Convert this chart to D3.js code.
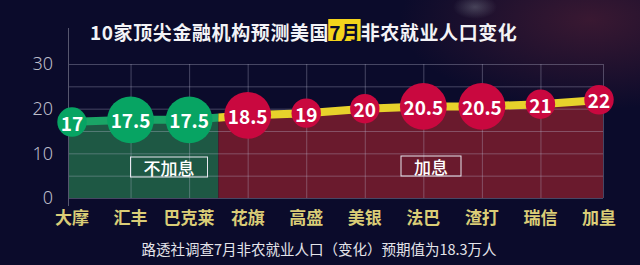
<!DOCTYPE html>
<html>
<head>
<meta charset="utf-8">
<script src="https://cdn.jsdelivr.net/npm/d3@7"></script>
<style>
  html, body { margin: 0; padding: 0; background: #0b0b2b; }
  svg { display: block; }
</style>
</head>
<body>
<svg id="chart" width="640" height="265"></svg>
<script>
// ---- data ----
const institutions = ['大摩', '汇丰', '巴克莱', '花旗', '高盛', '美银', '法巴', '渣打', '瑞信', '加皇'];
const forecasts = [17, 17.5, 17.5, 18.5, 19, 20, 20.5, 20.5, 21, 22];
const rateView = ['不加息', '不加息', '不加息', '加息', '加息', '加息', '加息', '加息', '加息', '加息'];
const gridTicks = [0, 5, 10, 15, 20, 25, 30];
const yTickLabels = [0, 10, 20, 30];
const titleParts = ['10家顶尖金融机构预测美国', '7月', '非农就业人口变化'];
const footnote = '路透社调查7月非农就业人口（变化）预期值为18.3万人';

// ---- layout ----
const W = 640, H = 265;
const plot = { left: 68, right: 603, top: 64, bottom: 198 };
const CJK = "'Noto Sans CJK SC', 'Noto Sans', sans-serif";
const colors = {
  bg: '#0b0b2b',
  grid: 'rgba(190,190,215,0.33)',
  axis: '#56566e',
  holdArea: '#1e5844',
  hikeArea: '#6a1a2d',
  holdLine: '#1aa566',
  hikeLine: '#e7d22b',
  holdDot: '#07a463',
  hikeDot: '#c9083f',
  xLabel: '#dacd77',
  yLabel: '#bdbdca'
};
const groupStyle = {
  '不加息': { area: colors.holdArea, line: colors.holdLine, dot: colors.holdDot, box: { cx: 169, cy: 167 } },
  '加息':   { area: colors.hikeArea, line: colors.hikeLine, dot: colors.hikeDot, box: { cx: 431, cy: 166 } }
};

const rows = institutions.map((name, i) => ({ name, value: forecasts[i], view: rateView[i] }));
const n = rows.length;

const svg = d3.select('#chart');
const defs = svg.append('defs');

// background with a faint glow in the upper right
svg.append('rect').attr('width', W).attr('height', H).attr('fill', colors.bg);
const glow = defs.append('radialGradient').attr('id', 'glow')
  .attr('cx', 0.5).attr('cy', 0.5).attr('r', 0.5);
glow.append('stop').attr('offset', '0%').attr('stop-color', 'rgba(95,35,55,0.55)');
glow.append('stop').attr('offset', '100%').attr('stop-color', 'rgba(95,35,55,0)');
svg.append('ellipse').attr('cx', 590).attr('cy', 20).attr('rx', 190).attr('ry', 90).attr('fill', 'url(#glow)');
const spot = defs.append('radialGradient').attr('id', 'spot')
  .attr('cx', 0.5).attr('cy', 0.5).attr('r', 0.5);
spot.append('stop').attr('offset', '0%').attr('stop-color', 'rgba(150,160,170,0.35)');
spot.append('stop').attr('offset', '100%').attr('stop-color', 'rgba(150,160,170,0)');
svg.append('ellipse').attr('cx', 475).attr('cy', 7).attr('rx', 22).attr('ry', 12).attr('fill', 'url(#spot)');

// ---- scales ----
const x = d3.scalePoint().domain(institutions).range([72, 599]);
const y = d3.scaleLinear().domain([0, 30]).range([plot.bottom, plot.top]);

// the filled band runs from edge to edge of the plot
const xEdge = (d, i) => i === 0 ? plot.left : i === n - 1 ? plot.right : x(d.name);

// split between the two rate-view groups
const splitIdx = rows.findIndex(d => d.view !== rows[0].view);
const splitX = (x(rows[splitIdx - 1].name) + x(rows[splitIdx].name)) / 2;

defs.append('clipPath').attr('id', 'clip-hold').append('rect')
  .attr('x', 0).attr('y', 0).attr('width', splitX).attr('height', H);
defs.append('clipPath').attr('id', 'clip-hike').append('rect')
  .attr('x', splitX).attr('y', 0).attr('width', W - splitX).attr('height', H);
const clipFor = { '不加息': 'url(#clip-hold)', '加息': 'url(#clip-hike)' };

// ---- area ----
const area = d3.area().x(xEdge).y0(y(0)).y1(d => y(d.value));
Object.keys(groupStyle).forEach(g => {
  svg.append('path').datum(rows)
    .attr('d', area)
    .attr('fill', groupStyle[g].area)
    .attr('clip-path', clipFor[g]);
});

// ---- grid ----
const gGrid = svg.append('g').attr('transform', `translate(${plot.left},0)`)
  .call(d3.axisLeft(y).tickValues(gridTicks).tickSize(-(plot.right - plot.left)).tickFormat(''));
gGrid.select('.domain').remove();
gGrid.selectAll('line').attr('stroke', colors.grid).attr('stroke-width', 1);

const gVGrid = svg.append('g').attr('transform', `translate(0,${plot.bottom})`)
  .call(d3.axisBottom(x).tickValues(institutions.slice(1, -1)).tickSize(-(plot.bottom - plot.top)).tickFormat(''));
gVGrid.select('.domain').remove();
gVGrid.selectAll('line').attr('stroke', colors.grid).attr('stroke-width', 1);

// right border and left axis line
svg.append('line').attr('x1', plot.right + 0.5).attr('x2', plot.right + 0.5)
  .attr('y1', plot.top).attr('y2', plot.bottom).attr('stroke', colors.grid);
svg.append('line').attr('x1', plot.left + 0.5).attr('x2', plot.left + 0.5)
  .attr('y1', 28).attr('y2', 206).attr('stroke', colors.axis);

// y tick labels
const gY = svg.append('g').attr('transform', `translate(${plot.left},0)`)
  .call(d3.axisLeft(y).tickValues(yTickLabels).tickSize(0).tickPadding(15));
gY.select('.domain').remove();
gY.selectAll('text')
  .attr('fill', colors.yLabel)
  .style('font-family', "'Noto Sans', sans-serif")
  .style('font-size', '18px')
  .style('font-weight', 300);

// ---- line ----
const line = d3.line().x(xEdge).y(d => y(d.value));
Object.keys(groupStyle).forEach(g => {
  svg.append('path').datum(rows)
    .attr('d', line)
    .attr('fill', 'none')
    .attr('stroke', groupStyle[g].line)
    .attr('stroke-width', 8)
    .attr('clip-path', clipFor[g]);
});

// ---- group annotations ----
Object.keys(groupStyle).forEach(g => {
  const b = groupStyle[g].box;
  const ga = svg.append('g').attr('transform', `translate(${b.cx},${b.cy})`);
  const t = ga.append('text')
    .attr('text-anchor', 'middle').attr('dominant-baseline', 'central')
    .attr('fill', '#ffffff')
    .style('font-family', CJK).style('font-size', '17px').style('font-weight', 500)
    .text(g);
  const w = t.node().getComputedTextLength() + 26;
  ga.insert('rect', 'text')
    .attr('x', -w / 2).attr('y', -10).attr('width', w).attr('height', 20)
    .attr('fill', 'none').attr('stroke', '#e8e8f0').attr('stroke-width', 1);
});

// ---- dots with values ----
const dots = svg.append('g').selectAll('g').data(rows).join('g')
  .attr('transform', d => `translate(${x(d.name)},${y(d.value)})`);
dots.append('text')
  .attr('text-anchor', 'middle').attr('dominant-baseline', 'central')
  .attr('fill', '#ffffff')
  .style('font-family', CJK).style('font-size', '19px').style('font-weight', 700)
  .text(d => d3.format('')(d.value));
dots.each(function (d) {
  const g = d3.select(this);
  const w = g.select('text').node().getComputedTextLength();
  g.insert('circle', 'text').attr('r', w / 2 + 3.5).attr('fill', groupStyle[d.view].dot);
});

// ---- x labels ----
svg.append('g').selectAll('text').data(rows).join('text')
  .attr('x', d => x(d.name)).attr('y', 216.5)
  .attr('text-anchor', 'middle').attr('dominant-baseline', 'central')
  .attr('fill', colors.xLabel)
  .style('font-family', CJK).style('font-size', '17px').style('font-weight', 700)
  .text(d => d.name);

// ---- title ----
const title = svg.append('text')
  .attr('x', 90).attr('y', 30.5).attr('dominant-baseline', 'central')
  .attr('fill', '#f3f3f6')
  .style('font-family', CJK).style('font-size', '19px').style('font-weight', 700)
  .style('letter-spacing', '0.6px');
title.append('tspan').text(titleParts[0]);
title.append('tspan').attr('fill', colors.bg).text(titleParts[1]);
title.append('tspan').text(titleParts[2]);
const tn = title.node();
const i0 = titleParts[0].length;
const e0 = tn.getExtentOfChar(i0);
const e1 = tn.getExtentOfChar(i0 + titleParts[1].length - 1);
svg.insert('rect', () => tn)
  .attr('x', e0.x - 1).attr('y', 19)
  .attr('width', e1.x + e1.width - e0.x + 1).attr('height', 22)
  .attr('fill', '#f4d41b');

// ---- footnote ----
svg.append('text')
  .attr('x', 319).attr('y', 248.5)
  .attr('text-anchor', 'middle').attr('dominant-baseline', 'central')
  .attr('fill', '#e4e4ea')
  .style('font-family', CJK).style('font-size', '14.5px')
  .text(footnote);
</script>
</body>
</html>
